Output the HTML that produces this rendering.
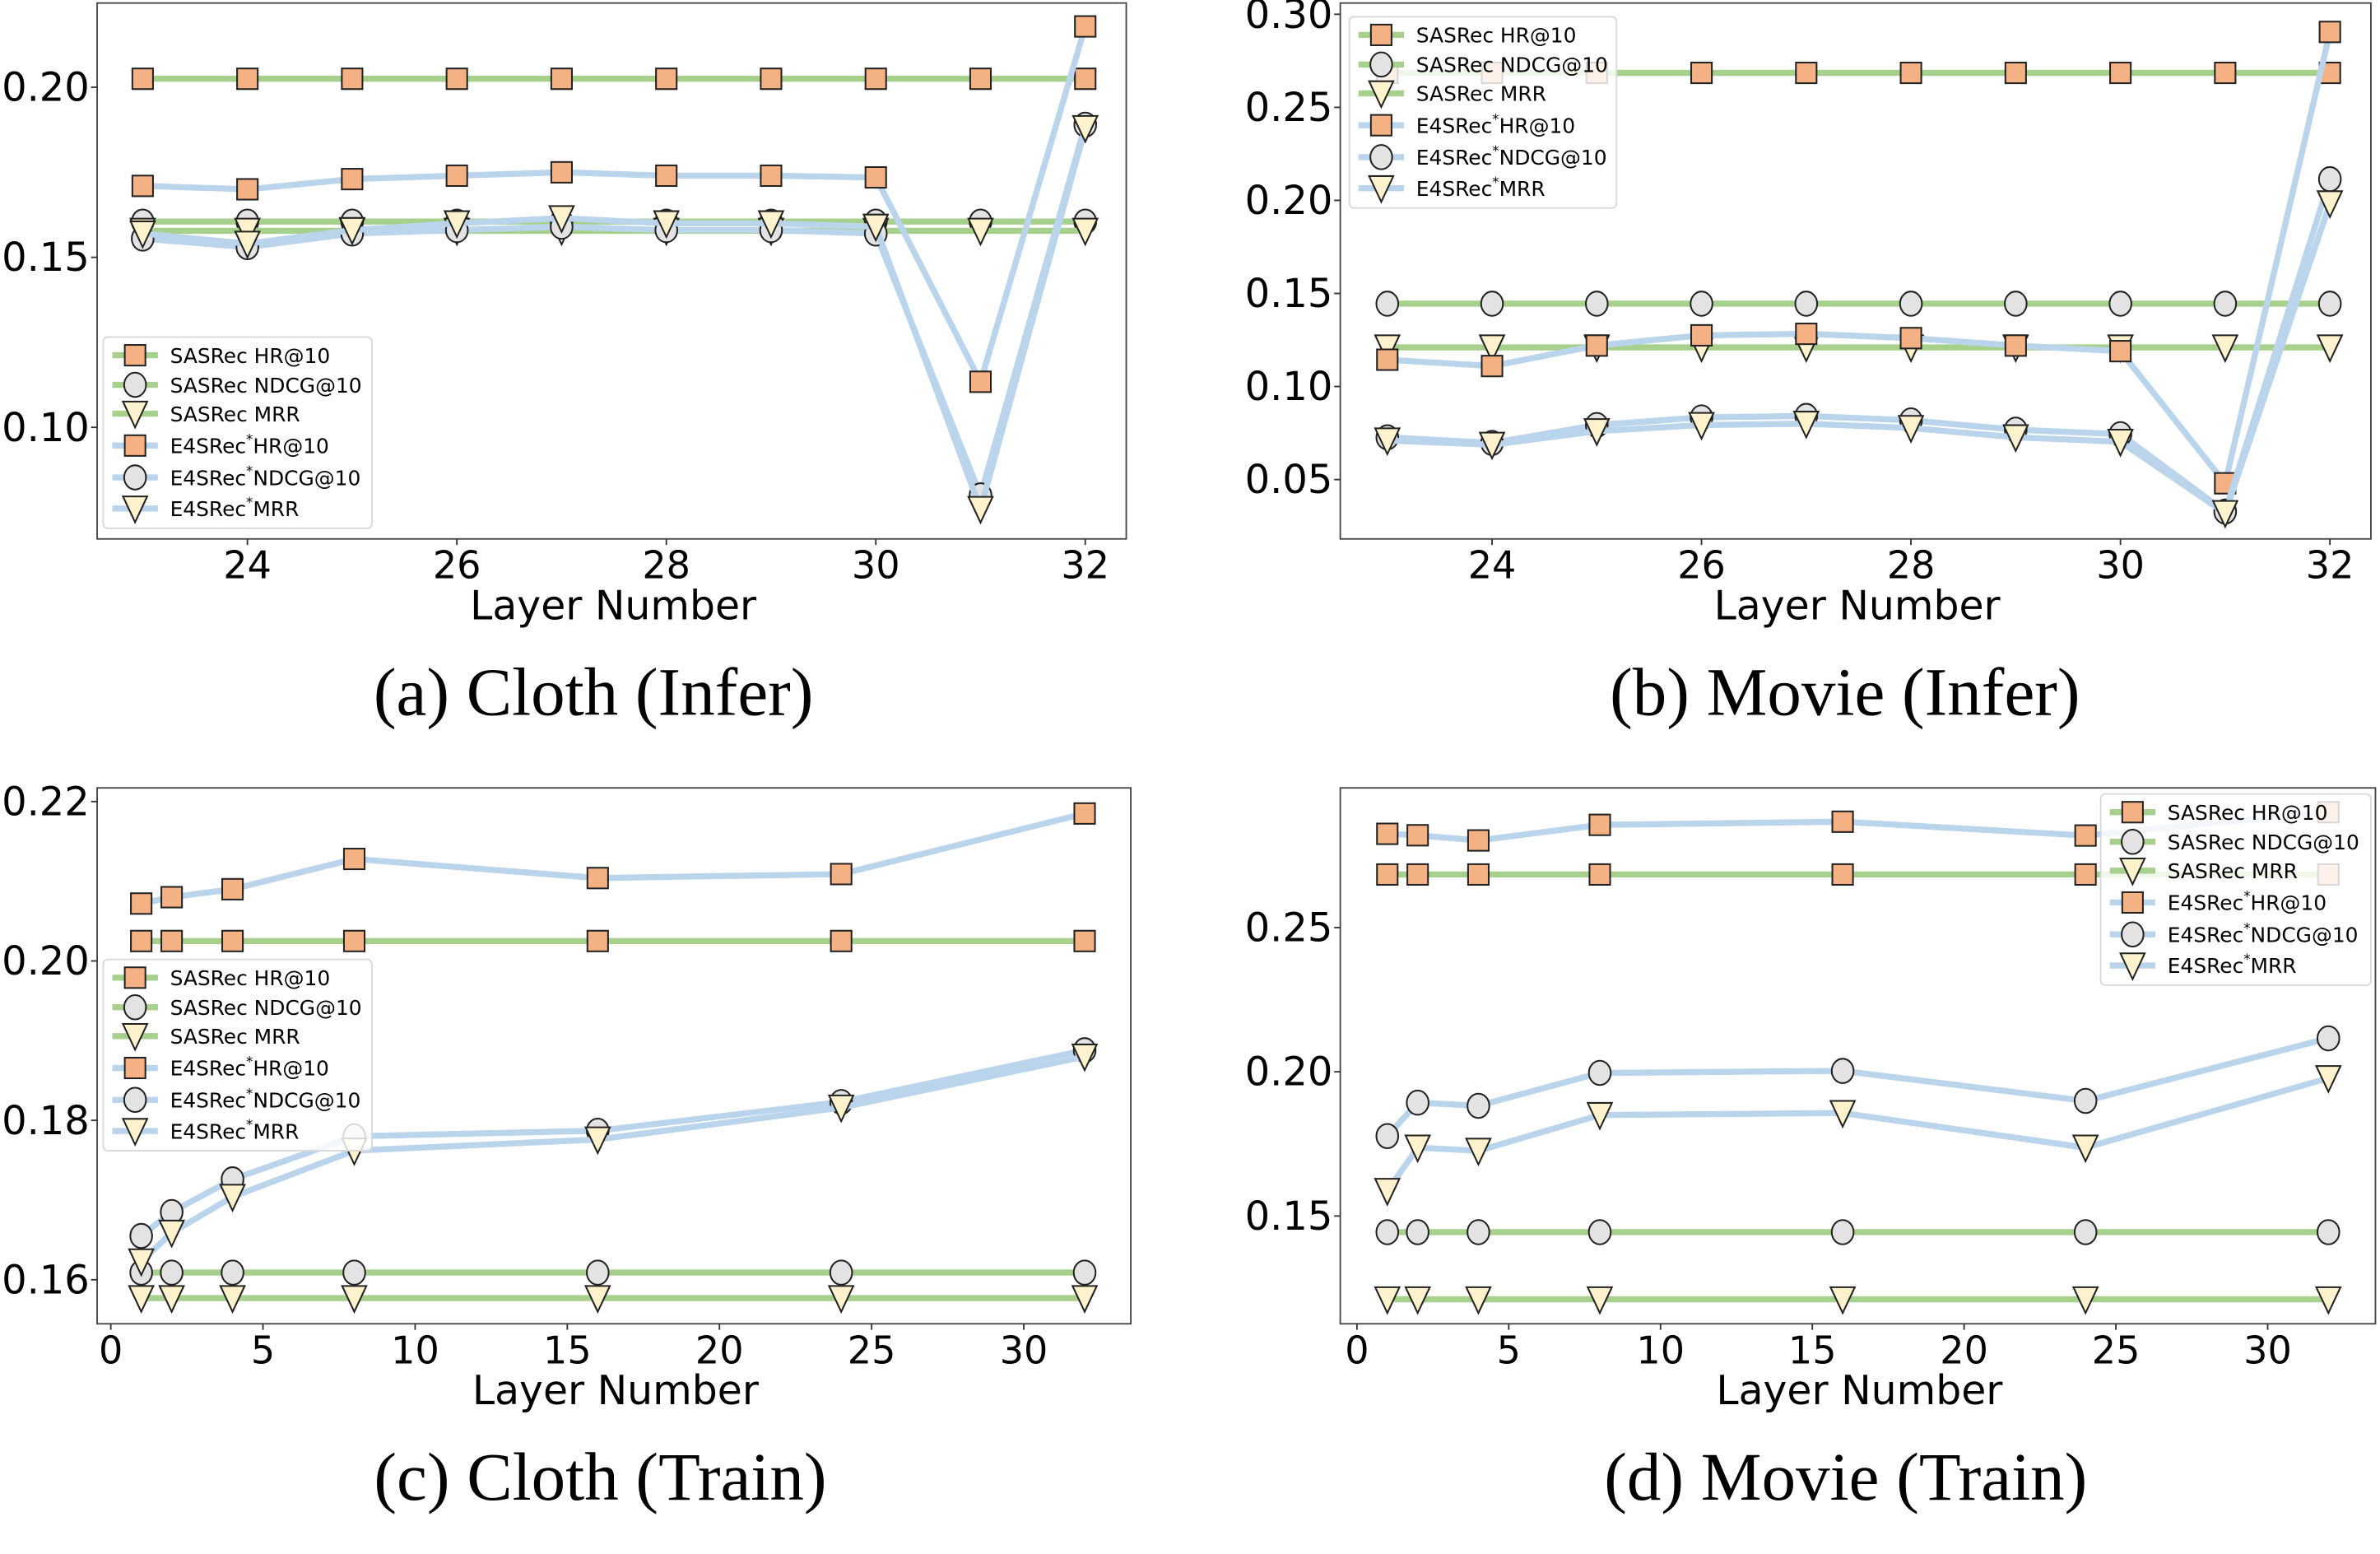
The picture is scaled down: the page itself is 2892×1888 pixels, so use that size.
<!DOCTYPE html>
<html><head><meta charset="utf-8"><style>
html,body{margin:0;padding:0;background:#fff;}
svg{display:block;}
text{font-family:"DejaVu Sans","Liberation Sans",sans-serif;}
.cap{font-family:"Liberation Serif",serif;}
</style></head><body>
<svg id="fig" width="2892" height="1888" viewBox="0 0 1568 1023.65" xmlns="http://www.w3.org/2000/svg"></svg>
<script>
// ---- data ----
const xA = [23,24,25,26,27,28,29,30,31,32];
const aSasHR = [0.2025,0.2025,0.2025,0.2025,0.2025,0.2025,0.2025,0.2025,0.2025,0.2025];
const aSasNDCG = [0.1605,0.1605,0.1605,0.1605,0.1605,0.1605,0.1605,0.1605,0.1605,0.1605];
const aSasMRR = [0.1578,0.1578,0.1578,0.1578,0.1578,0.1578,0.1578,0.1578,0.1578,0.1578];
const aE4HR = [0.171,0.170,0.173,0.174,0.175,0.174,0.174,0.1735,0.1134,0.2179];
const aE4NDCG = [0.1555,0.153,0.157,0.158,0.159,0.158,0.158,0.157,0.080,0.189];
const aE4MRR = [0.157,0.154,0.158,0.160,0.1615,0.160,0.160,0.159,0.076,0.188];

const bSasHR = [0.2685,0.2685,0.2685,0.2685,0.2685,0.2685,0.2685,0.2685,0.2685,0.2685];
const bSasNDCG = [0.1445,0.1445,0.1445,0.1445,0.1445,0.1445,0.1445,0.1445,0.1445,0.1445];
const bSasMRR = [0.121,0.121,0.121,0.121,0.121,0.121,0.121,0.121,0.121,0.121];
const bE4HR = [0.1144,0.111,0.122,0.1275,0.1283,0.126,0.122,0.119,0.048,0.2905];
const bE4NDCG = [0.0727,0.0697,0.0793,0.0834,0.0842,0.0818,0.0768,0.0744,0.0328,0.2114];
const bE4MRR = [0.071,0.0687,0.076,0.0793,0.080,0.0777,0.0727,0.0703,0.032,0.1984];

const xC = [1,2,4,8,16,24,32];
const cSasHR = [0.2025,0.2025,0.2025,0.2025,0.2025,0.2025,0.2025];
const cSasNDCG = [0.1609,0.1609,0.1609,0.1609,0.1609,0.1609,0.1609];
const cSasMRR = [0.1577,0.1577,0.1577,0.1577,0.1577,0.1577,0.1577];
const cE4HR = [0.2072,0.208,0.209,0.2128,0.2104,0.2109,0.2185];
const cE4NDCG = [0.1655,0.1685,0.1726,0.178,0.1787,0.1823,0.1888];
const cE4MRR = [0.1623,0.1659,0.1704,0.1762,0.1776,0.1816,0.188];

const dSasHR = [0.2684,0.2684,0.2684,0.2684,0.2684,0.2684,0.2684];
const dSasNDCG = [0.1444,0.1444,0.1444,0.1444,0.1444,0.1444,0.1444];
const dSasMRR = [0.1211,0.1211,0.1211,0.1211,0.1211,0.1211,0.1211];
const dE4HR = [0.2825,0.282,0.2802,0.2856,0.2867,0.2819,0.290];
const dE4NDCG = [0.1777,0.1893,0.1882,0.1996,0.2003,0.1899,0.2116];
const dE4MRR = [0.1587,0.1737,0.1726,0.185,0.1857,0.1737,0.1978];

const xTicksA = [24,26,28,30,32];
const xTicksC = [0,5,10,15,20,25,30];
const yTicksA = [0.10,0.15,0.20];
const yTicksB = [0.05,0.10,0.15,0.20,0.25,0.30];
const yTicksC = [0.16,0.18,0.20,0.22];
const yTicksD = [0.15,0.20,0.25];
const legendLabels = ["SASRec HR@10","SASRec NDCG@10","SASRec MRR","E4SRec HR@10","E4SRec NDCG@10","E4SRec MRR"];
const captions = ["(a) Cloth (Infer)","(b) Movie (Infer)","(c) Cloth (Train)","(d) Movie (Train)"];

const NS="http://www.w3.org/2000/svg";
const svg=document.getElementById('fig');
function mk(tag,attrs,parent){const e=document.createElementNS(NS,tag);for(const k in attrs)e.setAttribute(k,attrs[k]);(parent||svg).appendChild(e);return e;}
const GREEN="#a7d08c", BLUE="#bad4ec";
const FILLS={sq:"#f4b183",ci:"#e3e3e3",tr:"#fff2cc"};

function marker(g,kind,cx,cy,op){
  let m;
  if(kind==='sq') m=mk('rect',{x:cx-6.8,y:cy-6.8,width:13.6,height:13.6,fill:FILLS.sq,stroke:'#222','stroke-width':1.1,opacity:op},g);
  else if(kind==='ci') m=mk('ellipse',{cx:cx,cy:cy,rx:7.2,ry:8,fill:FILLS.ci,stroke:'#222','stroke-width':1.1,opacity:op},g);
  else m=mk('polygon',{points:`${cx-8},${cy-8} ${cx+8},${cy-8} ${cx},${cy+9}`,fill:FILLS.tr,stroke:'#222','stroke-width':1.1,opacity:op},g);
  return m;
}

function panel(p){
  const g=mk('g',{});
  
  
  const X=v=>p.x0+(v-p.xv0)*p.xs;
  const Y=v=>p.y0+(p.yv0-v)*p.ys;
  const frame=mk('rect',{x:p.L,y:p.T,width:p.R-p.L,height:p.B-p.T,fill:'none',stroke:'#444','stroke-width':1},g);
  
  
  p.yticks.forEach(t=>{
    const y=Y(t);
    mk('line',{x1:p.L-4,x2:p.L,y1:y,y2:y,stroke:'#333','stroke-width':1},g);
    const tx=mk('text',{x:p.L-5,y:y+9,'font-size':26,'text-anchor':'end',fill:'#000'},g);
    tx.textContent=t.toFixed(2);
    
    
  });
  p.xticks.forEach(t=>{
    const x=X(t);
    mk('line',{x1:x,x2:x,y1:p.B,y2:p.B+4,stroke:'#333','stroke-width':1},g);
    const tx=mk('text',{x:x,y:p.B+26,'font-size':25,'text-anchor':'middle',fill:'#000'},g);
    tx.textContent=String(t);
    
    
  });
  const xl=mk('text',{x:(p.L+p.R)/2+1,y:p.B+53,'font-size':26.5,'text-anchor':'middle',fill:'#000'},g);
  xl.textContent='Layer Number';
  
  
  const cp=mk('text',{x:(p.L+p.R)/2+p.cdx,y:p.B+116,'font-size':45,'text-anchor':'middle',fill:'#000',class:'cap'},g);
  cp.textContent=p.caption;
  
  
  const series=[[p.s[0],GREEN,'sq','sasrec-hr'],[p.s[1],GREEN,'ci','sasrec-ndcg'],[p.s[2],GREEN,'tr','sasrec-mrr'],
                [p.s[3],BLUE,'sq','e4srec-hr'],[p.s[4],BLUE,'ci','e4srec-ndcg'],[p.s[5],BLUE,'tr','e4srec-mrr']];
  series.forEach(([vals,col,kind,nm])=>{
    const sg=mk('g',{},g);
    
    
    const pts=vals.map((v,i)=>X(p.xs_[i]).toFixed(2)+','+Y(v).toFixed(2)).join(' ');
    const pl=mk('polyline',{points:pts,fill:'none',stroke:col,'stroke-width':4,'stroke-linejoin':'round'},sg);
    
    
    vals.forEach((v,i)=>{
      const m=marker(sg,kind,X(p.xs_[i]),Y(v),1);
      
      
    });
  });
  const lg=mk('g',{},g);
  
  
  mk('rect',{x:p.lx,y:p.ly,width:p.lw,height:126,rx:3,fill:'#fff','fill-opacity':0.82,stroke:'#d8d8d8','stroke-width':1},lg);
  const offs=[12,31.5,50.5,71.5,92.5,113];
  const kinds=['sq','ci','tr','sq','ci','tr'];
  legendLabels.forEach((lab,i)=>{
    const yy=p.ly+offs[i];
    const col=i<3?GREEN:BLUE;
    const e=mk('g',{},lg);
    
    
    mk('line',{x1:p.lx+6,x2:p.lx+36,y1:yy,y2:yy,stroke:col,'stroke-width':4},e);
    marker(e,kinds[i],p.lx+21,yy,1);
    const t=mk('text',{x:p.lx+44,y:yy+5,'font-size':13.5,fill:'#000'},e);
    if(i<3) t.textContent=lab;
    else {
      const parts=lab.split(' ');
      const a=mk('tspan',{},t); a.textContent=parts[0];
      const s=mk('tspan',{dy:-6,'font-size':9},t); s.textContent='*';
      const b=mk('tspan',{dy:6},t); b.textContent=parts[1];
    }
  });
}

panel({name:'panel-a-cloth-infer',L:64,R:742,T:2,B:355,x0:94,xv0:23,xs:69,y0:57.5,yv0:0.20,ys:2240,cdx:-12,
  xticks:xTicksA,yticks:yTicksA,xs_:xA,s:[aSasHR,aSasNDCG,aSasMRR,aE4HR,aE4NDCG,aE4MRR],lx:68,ly:222,lw:177,caption:captions[0]});
panel({name:'panel-b-movie-infer',L:883,R:1562,T:2,B:355,x0:914,xv0:23,xs:69,y0:132,yv0:0.20,ys:1226,cdx:-7,
  xticks:xTicksA,yticks:yTicksB,xs_:xA,s:[bSasHR,bSasNDCG,bSasMRR,bE4HR,bE4NDCG,bE4MRR],lx:889,ly:11,lw:176,caption:captions[1]});
panel({name:'panel-c-cloth-train',L:64,R:745,T:519,B:872,x0:73,xv0:0,xs:20.05,y0:633,yv0:0.20,ys:5250,cdx:-9,
  xticks:xTicksC,yticks:yTicksC,xs_:xC,s:[cSasHR,cSasNDCG,cSasMRR,cE4HR,cE4NDCG,cE4MRR],lx:68,ly:632,lw:177,caption:captions[2]});
panel({name:'panel-d-movie-train',L:883,R:1565,T:519,B:872,x0:894,xv0:0,xs:20,y0:706,yv0:0.20,ys:1900,cdx:-8,
  xticks:xTicksC,yticks:yTicksD,xs_:xC,s:[dSasHR,dSasNDCG,dSasMRR,dE4HR,dE4NDCG,dE4MRR],lx:1384,ly:523,lw:178,caption:captions[3]});
</script>
</body></html>
